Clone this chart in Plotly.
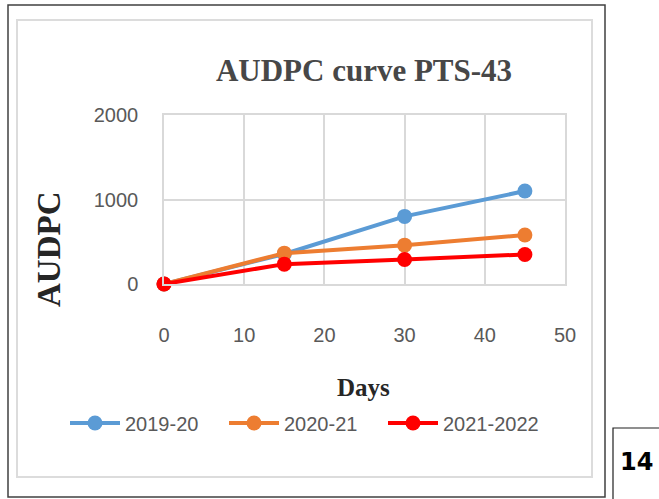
import plotly.graph_objects as go

days = [0, 15, 30, 45]
series_names = ["2019-20", "2020-21", "2021-2022"]
audpc_2019_20 = [0, 355, 800, 1100]
audpc_2020_21 = [0, 365, 460, 580]
audpc_2021_2022 = [0, 235, 290, 350]
colors = ["#5b9bd5", "#ed7d31", "#ff0000"]
x_ticks = [0, 10, 20, 30, 40, 50]
y_ticks = [0, 1000, 2000]

W, H = 659, 499
L, R, T, B = 164, 94, 115, 215
PW, PH = W - L - R, H - T - B


def px(x):
    return (x - L) / PW


def py(y):
    return (H - B - y) / PH


fig = go.Figure()
for name, vals, col in zip(series_names, [audpc_2019_20, audpc_2020_21, audpc_2021_2022], colors):
    fig.add_trace(go.Scatter(
        x=days, y=vals, name=name, mode="lines+markers",
        line=dict(color=col, width=4),
        marker=dict(color=col, size=15),
        cliponaxis=False,
    ))

grid = "#d9d9d9"
tickfont = dict(family="Liberation Sans, Arial, sans-serif", size=20, color="#595959")
serif = "Liberation Serif, Times New Roman, serif"
fig.update_layout(
    width=W, height=H,
    paper_bgcolor="white", plot_bgcolor="white",
    margin=dict(l=L, r=R, t=T, b=B),
    title=dict(text="<b>AUDPC curve PTS-43</b>", x=364 / W, xanchor="center",
               y=1 - 70 / H, yanchor="middle", xref="container", yref="container",
               font=dict(family=serif, size=31, color="#474747")),
    xaxis=dict(range=[0, 50], tickvals=x_ticks, showgrid=True, gridcolor=grid, gridwidth=1.5,
               showline=True, linecolor=grid, linewidth=1.5, mirror=True, zeroline=False,
               ticks="outside", ticklen=32, tickcolor="rgba(0,0,0,0)", tickfont=tickfont),
    yaxis=dict(range=[0, 2000], tickvals=y_ticks, showgrid=True, gridcolor=grid, gridwidth=1.5,
               showline=True, linecolor=grid, linewidth=1.5, mirror=True, zeroline=False,
               ticks="outside", ticklen=20, tickcolor="rgba(0,0,0,0)", tickfont=tickfont),
    showlegend=True,
    legend=dict(orientation="h", x=px(65), xanchor="left", y=py(423), yanchor="middle",
                font=tickfont, itemwidth=50, entrywidth=94, entrywidthmode="pixels",
                bgcolor="rgba(0,0,0,0)"),
    annotations=[
        dict(text="<b>Days</b>", x=px(363), y=py(387), xref="paper", yref="paper",
             showarrow=False, xanchor="center", yanchor="middle",
             font=dict(family=serif, size=25, color="#262626")),
        dict(text="<b>AUDPC</b>", x=px(49), y=py(250), xref="paper", yref="paper",
             showarrow=False, xanchor="center", yanchor="middle", textangle=-90,
             font=dict(family=serif, size=33, color="#262626")),
        dict(text="<b>14</b>", x=px(636), y=py(462), xref="paper", yref="paper",
             showarrow=False, xanchor="center", yanchor="middle",
             font=dict(family="DejaVu Sans, sans-serif", size=24, color="black")),
    ],
    shapes=[
        dict(type="rect", xref="paper", yref="paper", x0=px(8), x1=px(605), y0=py(497), y1=py(5),
             line=dict(color="#404040", width=1.5), layer="below"),
        dict(type="rect", xref="paper", yref="paper", x0=px(17), x1=px(592), y0=py(477), y1=py(20),
             line=dict(color="#dcdcdc", width=2), layer="below"),
        dict(type="rect", xref="paper", yref="paper", x0=px(613), x1=px(670), y0=py(510), y1=py(428),
             line=dict(color="#202020", width=1.2), layer="below"),
    ],
)
fig.write_html("out.html")
